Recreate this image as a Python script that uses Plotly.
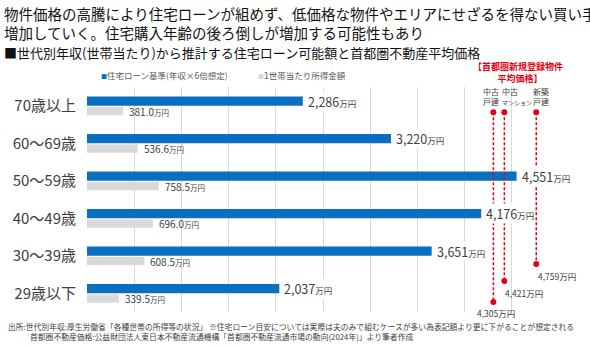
import plotly.graph_objects as go

# ---------------- data ----------------
categories = ["29歳以下", "30～39歳", "40～49歳", "50～59歳", "60～69歳", "70歳以上"]
loan_values = [2037, 3651, 4176, 4551, 3220, 2286]          # 住宅ローン基準(年収×6倍想定) 万円
income_values = [339.5, 608.5, 696.0, 758.5, 536.6, 381.0]   # 1世帯当たり所得金額 万円
loan_name = "住宅ローン基準(年収×6倍想定)"
income_name = "1世帯当たり所得金額"

price_names = ["中古戸建", "中古マンション", "新築戸建"]
price_values = [4305, 4421, 4759]                            # 首都圏新規登録物件 平均価格 万円

title_line1 = "物件価格の高騰により住宅ローンが組めず、低価格な物件やエリアにせざるを得ない買い手が"
title_line2 = "増加していく。住宅購入年齢の後ろ倒しが増加する可能性もあり"
subtitle = "■世代別年収(世帯当たり)から推計する住宅ローン可能額と首都圏不動産平均価格"
footer1 = "出所:世代別年収:厚生労働省「各種世帯の所得等の状況」 ※住宅ローン目安については実際は夫のみで組むケースが多い為表記額より更に下がることが想定される"
footer2 = "首都圏不動産価格:公益財団法人東日本不動産流通機構「首都圏不動産流通市場の動向(2024年)」より筆者作成"

# ---------------- style ----------------
FONT = "Noto Sans CJK JP"
BLUE = "#0a6fc0"
GRAY = "#d9d9d9"
RED = "#e60012"
TXT = "#404040"
W, H = 590, 348
L, R, T, B = 87, 31, 87, 36

def px(x):
    return (x - L) / (W - L - R)

def py(y):
    return (H - B - y) / (H - T - B)

pos = list(range(len(categories)))

fig = go.Figure()
fig.add_trace(go.Bar(
    y=pos, x=loan_values, orientation="h", name=loan_name,
    marker=dict(color=BLUE, line=dict(width=0)),
    width=0.25, offset=0.0, hoverinfo="skip", showlegend=False))
fig.add_trace(go.Bar(
    y=pos, x=income_values, orientation="h", name=income_name,
    marker=dict(color=GRAY, line=dict(width=0)),
    width=0.22, offset=-0.25, hoverinfo="skip", showlegend=False))

# price marker lines (vertical extent in category units is decoration)
top_y = 4.83
bottom_y = [-0.23, 0.33, 0.78]
for val, by in zip(price_values, bottom_y):
    fig.add_trace(go.Scatter(
        x=[val, val], y=[top_y, by], mode="lines+markers",
        line=dict(color=RED, width=1.5, dash="3px,2px"),
        marker=dict(color=RED, size=6), hoverinfo="skip", showlegend=False,
        cliponaxis=False))

ann = []
# value labels
for p, v in zip(pos, loan_values):
    ann.append(dict(x=v, y=p + 0.125, xref="x", yref="y", xanchor="left", yanchor="middle",
                    xshift=4, showarrow=False, bgcolor="white", borderpad=0,
                    text=f"{v:,}<span style='font-size:8.5px'>万円</span>",
                    font=dict(size=12.5, color=TXT, family=FONT)))
for p, v in zip(pos, income_values):
    ann.append(dict(x=v, y=p - 0.15, xref="x", yref="y", xanchor="left", yanchor="middle",
                    xshift=4, showarrow=False,
                    text=f"{v:.1f}<span style='font-size:7.5px'>万円</span>",
                    font=dict(size=10, color=TXT, family=FONT)))
# price labels
price_xshift = [0, 17, 18]
price_yshift = [-11, -12, -12]
for v, by, xs, ys in zip(price_values, bottom_y, price_xshift, price_yshift):
    ann.append(dict(x=v, y=by, xref="x", yref="y", xanchor="center", yanchor="middle",
                    xshift=xs + 3, yshift=ys, showarrow=False,
                    text=f"{v:,}万円", font=dict(size=8.5, color=TXT, family=FONT)))

def txt(x, y, text, size, color=TXT, anchor="left", align="left"):
    ann.append(dict(x=px(x), y=py(y), xref="paper", yref="paper", xanchor=anchor,
                    yanchor="middle", showarrow=False, text=text, align=align,
                    font=dict(size=size, color=color, family=FONT)))

txt(2, 22.5, title_line1 + "<br>" + title_line2, 14.5, "#111111")
txt(2, 52, subtitle, 13, "#111111")

# legend
txt(99, 75, f"<span style='color:{BLUE};font-size:6px'>■</span>{loan_name}", 8.5, "#595959")
txt(256, 75, f"<span style='color:{GRAY};font-size:6px'>■</span>{income_name}", 8.5, "#595959")

# red header
txt(518, 72, "<b>【首都圏新規登録物件<br>  平均価格】</b>", 9, RED, "center", "center")
# price type labels
txt(491, 96, "中古<br>戸建", 8, TXT, "center", "center")
txt(500, 96, "中古<br><span style='font-size:6px'>マンション</span>", 8, TXT, "left", "left")
txt(541, 96, "新築<br>戸建", 8, TXT, "center", "center")

# footer
txt(6, 326, footer1, 7.8, TXT)
txt(28, 336, footer2, 7.8, TXT)

fig.update_layout(
    width=W, height=H, margin=dict(l=L, r=R, t=T, b=B, pad=0),
    paper_bgcolor="white", plot_bgcolor="white",
    barmode="overlay", annotations=ann, showlegend=False,
    font=dict(family=FONT, color=TXT),
    xaxis=dict(range=[0, 5000], dtick=500, tick0=0, showticklabels=False,
               showgrid=True, gridcolor="#d9d9d9", gridwidth=1, zeroline=False,
               showline=False, fixedrange=True),
    yaxis=dict(range=[-0.5, 5.5], tickvals=pos, ticktext=categories,
               tickfont=dict(size=15, color=TXT, family=FONT), showgrid=False,
               zeroline=False, showline=False, ticks="", ticklabelstandoff=10,
               fixedrange=True),
)

fig.write_html("out.html")
